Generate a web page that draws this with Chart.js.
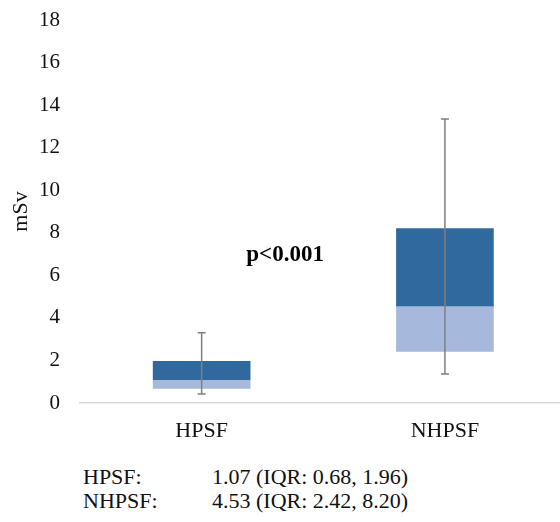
<!DOCTYPE html>
<html>
<head>
<meta charset="utf-8">
<script src="https://cdn.jsdelivr.net/npm/chart.js@4"></script>
<style>
  body { margin: 0; background: #fff; }
  #wrap { position: relative; width: 560px; height: 522px; }
  #chart { position: absolute; left: 0; top: 0; }
  .note { position: absolute; font: 22px "Liberation Serif", "Times New Roman", serif; color: #111; line-height: 24px; }
</style>
</head>
<body>
<div id="wrap">
  <canvas id="chart" width="560" height="450"></canvas>
  <div class="note" style="left:83px; top:465px;">HPSF:</div>
  <div class="note" style="left:212px; top:465px;">1.07 (IQR: 0.68, 1.96)</div>
  <div class="note" style="left:83px; top:489px;">NHPSF:</div>
  <div class="note" style="left:212px; top:489px;">4.53 (IQR: 2.42, 8.20)</div>
</div>
<script>
// box plot data (mSv)
const categories = ['HPSF', 'NHPSF'];
const q1 = [0.68, 2.42];
const median = [1.07, 4.53];
const q3 = [1.96, 8.20];
const whiskerLow = [0.42, 1.36];
const whiskerHigh = [3.3, 13.35];
const yTicks = [0, 2, 4, 6, 8, 10, 12, 14, 16, 18];

const serif = '"Liberation Serif", "Times New Roman", serif';
const X_MIN = -0.5, X_MAX = 1.473;

// whiskers + p value label
const whiskers = {
  id: 'whiskers',
  afterDatasetsDraw(chart) {
    const { ctx, scales: { x, y } } = chart;
    ctx.save();
    ctx.strokeStyle = '#7f7f7f';
    ctx.lineWidth = 1.5;
    categories.forEach((c, i) => {
      const px = x.getPixelForValue(i);
      const top = y.getPixelForValue(whiskerHigh[i]);
      const bot = y.getPixelForValue(whiskerLow[i]);
      ctx.beginPath();
      ctx.moveTo(px, top); ctx.lineTo(px, bot);
      ctx.moveTo(px - 4, top); ctx.lineTo(px + 4, top);
      ctx.moveTo(px - 4, bot); ctx.lineTo(px + 4, bot);
      ctx.stroke();
    });
    ctx.fillStyle = '#000';
    ctx.font = 'bold 23px ' + serif;
    ctx.textAlign = 'center';
    ctx.textBaseline = 'alphabetic';
    ctx.fillText('p<0.001', x.getPixelForValue(0.343), y.getPixelForValue(6.67));
    ctx.restore();
  }
};

new Chart(document.getElementById('chart'), {
  type: 'bar',
  data: {
    datasets: [
      {
        label: 'Q1-median',
        data: categories.map((c, i) => ({ x: i, y: [q1[i], median[i]] })),
        backgroundColor: '#a6b8dc',
        barThickness: 97,
        grouped: false
      },
      {
        label: 'median-Q3',
        data: categories.map((c, i) => ({ x: i, y: [median[i], q3[i]] })),
        backgroundColor: '#2f699d',
        barThickness: 97,
        grouped: false
      }
    ]
  },
  options: {
    responsive: false,
    animation: false,
    layout: { padding: { top: 20, right: 0, left: 0, bottom: 0 } },
    plugins: { legend: { display: false }, tooltip: { enabled: false } },
    scales: {
      x: {
        type: 'linear',
        min: X_MIN,
        max: X_MAX,
        offset: false,
        grid: { display: false, offset: false },
        border: { display: true, color: '#d9d9d9', width: 1.5 },
        afterBuildTicks: scale => {
          scale.ticks = categories.map((c, i) => ({ value: i }));
          scale.min = X_MIN;
          scale.max = X_MAX;
        },
        afterFit: scale => {
          scale.height = 47;
          scale.paddingLeft = 0;
          scale.paddingRight = 0;
        },
        ticks: {
          padding: 7,
          color: '#111',
          font: { family: serif, size: 22 },
          callback: v => categories[v]
        }
      },
      y: {
        min: 0,
        max: 18,
        grid: { display: false, drawTicks: false },
        border: { display: false },
        afterBuildTicks: scale => { scale.ticks = yTicks.map(v => ({ value: v })); },
        afterFit: scale => {
          scale.width = 80;
          scale.paddingTop = 0;
          scale.paddingBottom = 0;
        },
        title: {
          display: true,
          text: 'mSv',
          color: '#111',
          font: { family: serif, size: 22 },
          padding: { top: 8, bottom: 0 }
        },
        ticks: {
          padding: 20,
          color: '#111',
          font: { family: serif, size: 21 }
        }
      }
    }
  },
  plugins: [whiskers]
});
</script>
</body>
</html>
